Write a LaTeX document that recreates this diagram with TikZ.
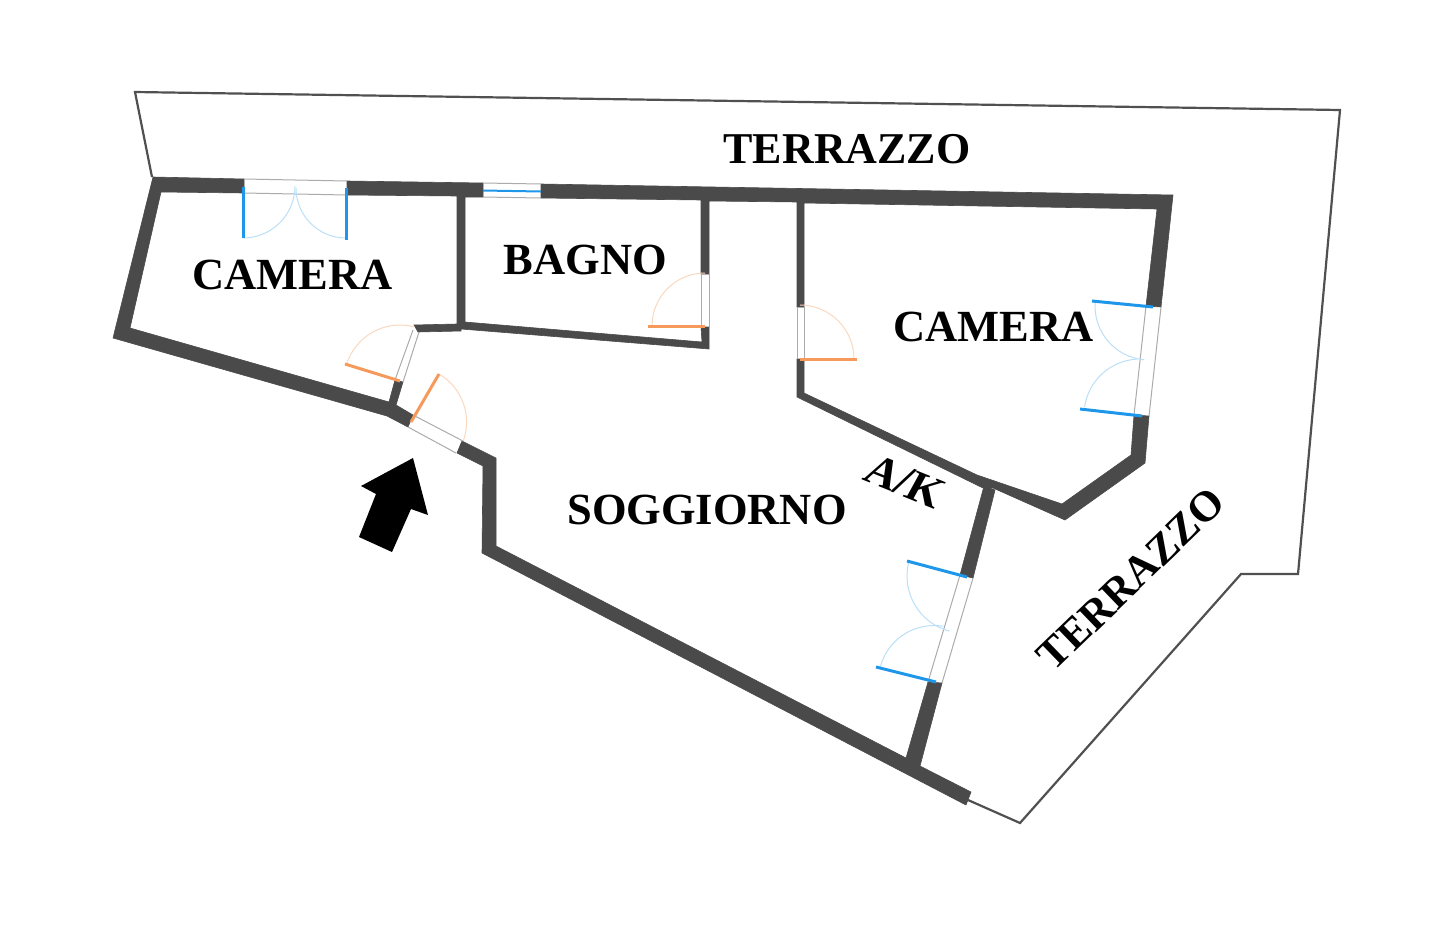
\documentclass[tikz,border=0pt]{standalone}
\usepackage{fontspec}
\setmainfont{Liberation Serif}
\definecolor{wallc}{HTML}{4A4A4A}
\definecolor{outl}{HTML}{505050}
\definecolor{doorb}{HTML}{1E96EA}
\definecolor{arcb}{HTML}{BBDFF6}
\definecolor{dooro}{HTML}{F59A5C}
\definecolor{arco}{HTML}{FAD7BF}
\definecolor{openg}{HTML}{ABABAB}
\tikzset{
  wallp/.style={fill=wallc,draw=wallc,line width=0.6pt,line join=miter},
  outline/.style={draw=outl,line width=2.2pt,line join=miter},
  bleaf/.style={draw=doorb,line width=3pt},
  oleaf/.style={draw=dooro,line width=3pt},
  barc/.style={draw=arcb,line width=1pt},
  oarc/.style={draw=arco,line width=1pt},
  openside/.style={draw=openg,line width=1pt},
  roomlabel/.style={font=\fontsize{44.5}{44.5}\selectfont\bfseries,text=black,inner sep=0pt,anchor=center},
  terrlabel/.style={font=\fontsize{44}{44}\selectfont\bfseries,text=black,inner sep=0pt,anchor=center},
  terrlabelb/.style={font=\fontsize{43}{43}\selectfont\bfseries,text=black,inner sep=0pt,anchor=center}
}
\begin{document}
\begin{tikzpicture}[x=1pt,y=-1pt]
\useasboundingbox (0,0) rectangle (1455,940);
% terrace outline
\draw[outline] (152,177) -- (135,92) -- (1340,110) -- (1298,574) -- (1241,574) -- (1020,823) -- (968,800);
% walls
\fill[wallp] (153,177) -- (244,179) -- (244,193) -- (161,192) -- (130,328) -- (389,402) -- (395,380) -- (403,382) -- (396,405) -- (413,415) -- (408,427) -- (387,416) -- (113,338) -- cycle;
\fill[wallp] (347,181) -- (483,183) -- (483,197) -- (465,197) -- (465,322) -- (702,342) -- (701,327) -- (709,327) -- (709,349) -- (461,329) -- (461,331) -- (418,332) -- (414,325) -- (457,324) -- (457,196) -- (347,195) -- cycle;
\fill[wallp] (541,184) -- (1173,195) -- (1161,307) -- (1146,306) -- (1157,209) -- (804,203) -- (804,307) -- (797,307) -- (797,202) -- (709,201) -- (709,274) -- (701,274) -- (701,200) -- (541,198) -- cycle;
\fill[wallp] (1134,415) -- (1149,416) -- (1145,463) -- (1065,520) -- (993,488) -- (983,488) -- (797,397) -- (797,359) -- (804,359) -- (804,393) -- (977,475) -- (1062,504) -- (1131,455) -- cycle;
\fill[wallp] (960,575) -- (973,578) -- (995,490) -- (984,486) -- cycle;
\fill[wallp] (928,682) -- (942,683) -- (920,766) -- (906,758) -- cycle;
\fill[wallp] (457,453) -- (462,441) -- (496,458) -- (496,546) -- (906,758) -- (920,766) -- (971,792) -- (966,805) -- (482,553) -- (483,466) -- cycle;
% window and door openings
\draw[openside] (244,179) -- (347,181) (244,193) -- (347,195);
\draw[openside] (483,183) -- (541,184) (483,197) -- (541,198);
\draw[doorb,line width=2pt] (483,190.5) -- (541,191.5);
\draw[openside] (701,274) -- (701,327) (709,274) -- (709,327);
\draw[openside] (797,307) -- (797,359) (804,307) -- (804,359);
\draw[openside] (395,380) -- (413,330) (403,382) -- (419,332);
\draw[openside] (413,415) -- (463,441) (408,427) -- (456,453);
\draw[openside] (1146,306) -- (1134,415) (1161,307) -- (1149,416);
\draw[openside] (960,575) -- (928,682) (973,578) -- (942,683);
% door swings
\draw[barc] (243,238) arc[start angle=90,end angle=0,radius=52];
\draw[barc] (346,238) arc[start angle=90,end angle=180,radius=50];
\draw[oarc] (705,273) arc[start angle=270,end angle=180,radius=53];
\draw[oarc] (800,305) arc[start angle=270,end angle=360,radius=54];
\path (400,381) +(197:56) coordinate (d1s);
\draw[oarc] (d1s) arc[start angle=197,end angle=285,radius=56];
\path (411,422) +(-60:55.6) coordinate (d2s);
\draw[oarc] (d2s) arc[start angle=-60,end angle=20,radius=55.6];
\path (1149,306) +(183:54) coordinate (d3s);
\draw[barc] (d3s) arc[start angle=183,end angle=95,radius=54];
\path (1140,415) +(188:56) coordinate (d4s);
\draw[barc] (d4s) arc[start angle=188,end angle=267,radius=56];
\path (964,576) +(193:57) coordinate (d5s);
\draw[barc] (d5s) arc[start angle=193,end angle=105,radius=57];
\path (934,681) +(194.5:55.5) coordinate (d6s);
\draw[barc] (d6s) arc[start angle=194.5,end angle=279.5,radius=55.5];
% door leaves
\draw[bleaf] (243,187) -- (243,238);
\draw[bleaf] (346,188) -- (346,240);
\draw[oleaf] (648,326) -- (705,326);
\draw[oleaf] (800,359) -- (857,359);
\draw[oleaf] (345,364) -- (400,381);
\draw[oleaf] (411,422) -- (439,374);
\draw[bleaf] (1092,301) -- (1153,307);
\draw[bleaf] (1080,409) -- (1142,416);
\draw[bleaf] (907,561) -- (967,577);
\draw[bleaf] (876,667) -- (936,682);
% entrance arrow
\fill[black] (413,458) -- (428,515) -- (411,509) -- (392,552) -- (359,537) -- (376,494) -- (361,486) -- cycle;
% labels
\node[terrlabel] (terrazzoA) at (847,149.5) {TERRAZZO};
\node[roomlabel] (cameraA) at (292.5,274.5) {CAMERA};
\node[roomlabel] (bagno) at (585.5,259.5) {BAGNO};
\node[roomlabel] (cameraB) at (993.5,326.5) {CAMERA};
\node[roomlabel] (soggiorno) at (707,509.5) {SOGGIORNO};
\node[roomlabel,rotate=-22,xslant=0.12] (ak) at (905,482) {A/K};
\node[terrlabelb,rotate=44] (terrazzoB) at (1131,579) {TERRAZZO};
\end{tikzpicture}
\end{document}
